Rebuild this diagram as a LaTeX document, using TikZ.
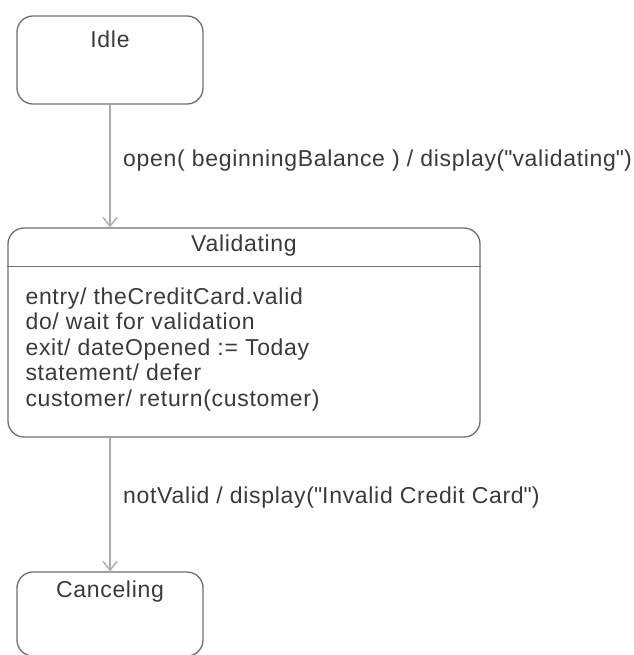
\documentclass[tikz,border=0pt]{standalone}
\usepackage{fontspec}
\setmainfont{Liberation Sans}
\usetikzlibrary{arrows.meta, positioning, calc}
\definecolor{EdgeDark}{HTML}{6E6E6E}
\definecolor{EdgeSoft}{HTML}{ABABAB}
\definecolor{TxtPri}{HTML}{3A3A3A}

\begin{document}
\begin{tikzpicture}[x=1pt, y=-1pt,
    font=\fontsize{23}{25.5}\selectfont\addfontfeature{LetterSpace=3}\color{TxtPri},
    statebox/.style={draw=EdgeDark, line width=1.3pt, rounded corners=16pt, inner sep=0pt},
    trans/.style={draw=EdgeSoft, line width=2pt,
      -{Straight Barb[length=9pt, width=14pt, line width=1.3pt]}},
    translabel/.style={anchor=west, inner sep=0pt}]
  \useasboundingbox (0,0) rectangle (633,655);

  % states
  \node[statebox, minimum width=186pt, minimum height=88pt] (idle) at (110,60) {};
  \node (idlename) at ([yshift=-24pt]idle.north) {Idle};

  \node[statebox, minimum width=472pt, minimum height=209pt] (valid) at (244,332.5) {};
  \node (validname) at ([yshift=-18pt]valid.north) {Validating};
  \draw[EdgeDark, line width=1.3pt] ([yshift=-39pt]valid.north west) -- ([yshift=-39pt]valid.north east);
  \node[anchor=north west, inner sep=0pt, align=left] (validbody)
    at ([xshift=18pt, yshift=-60pt]valid.north west)
    {entry/ theCreditCard.valid\\
     do/ wait for validation\\
     exit/ dateOpened := Today\\
     statement/ defer\\
     customer/ return(customer)};

  \node[statebox, minimum width=186pt, minimum height=84pt] (cancel) at (110,614) {};
  \node (cancelname) at ([yshift=-20pt]cancel.north) {Canceling};

  % transitions
  \draw[trans] (idle.south) -- (idle.south |- valid.north);
  \node[translabel] (openlabel) at (123,161)
    {open( beginningBalance ) / display(\textquotedbl validating\textquotedbl)};

  \draw[trans] (valid.south -| idle.south) -- (cancel.north);
  \node[translabel] (notlabel) at (123,498)
    {notValid / display(\textquotedbl Invalid Credit Card\textquotedbl)};
\end{tikzpicture}
\end{document}
